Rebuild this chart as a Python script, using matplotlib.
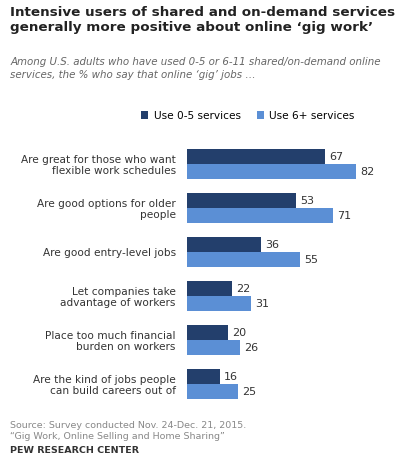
import matplotlib
matplotlib.use("Agg")
import matplotlib.pyplot as plt
import numpy as np

categories = ["Are great for those who want\nflexible work schedules",
              "Are good options for older\npeople",
              "Are good entry-level jobs",
              "Let companies take\nadvantage of workers",
              "Place too much financial\nburden on workers",
              "Are the kind of jobs people\ncan build careers out of"]
use_0_5 = [67, 53, 36, 22, 20, 16]
use_6p = [82, 71, 55, 31, 26, 25]
series_names = ["Use 0-5 services", "Use 6+ services"]
dark, light = "#233f6c", "#5b8fd5"

fig = plt.figure(figsize=(4.2, 4.59), dpi=100)
fig.text(0.024, 0.988, "Intensive users of shared and on-demand services\ngenerally more positive about online \u2018gig work\u2019",
         fontsize=9.7, fontweight="bold", va="top", ha="left", color="#222222", linespacing=1.25)
fig.text(0.024, 0.875, "Among U.S. adults who have used 0-5 or 6-11 shared/on-demand online\nservices, the % who say that online \u2018gig\u2019 jobs \u2026",
         fontsize=7.4, style="italic", va="top", ha="left", color="#666666", linespacing=1.3)

ax = fig.add_axes([0.445, 0.115, 0.49, 0.575])
y = np.arange(len(categories))
h = 0.34
b1 = ax.barh(y - h/2, use_0_5, height=h, color=dark, label=series_names[0])
b2 = ax.barh(y + h/2, use_6p, height=h, color=light, label=series_names[1])
for bars, vals in ((b1, use_0_5), (b2, use_6p)):
    for r, v in zip(bars, vals):
        ax.text(v + 2, r.get_y() + r.get_height()/2, str(v), va="center", ha="left", fontsize=8, color="#333333")
ax.set_xlim(0, 100)
ax.set_ylim(len(categories) - 0.5, -0.5)
ax.set_yticks(y)
ax.set_yticklabels(categories, fontsize=7.6, color="#333333", linespacing=1.15)
ax.tick_params(length=0, pad=8)
ax.set_xticks([])
for s in ax.spines.values():
    s.set_visible(False)
fig.legend(handles=[b1, b2], loc="center", bbox_to_anchor=(0.59, 0.748), ncol=2, frameon=False,
           fontsize=7.6, handlelength=0.7, handleheight=0.7, columnspacing=1.5, handletextpad=0.5)

fig.text(0.024, 0.083, "Source: Survey conducted Nov. 24-Dec. 21, 2015.\n\u201cGig Work, Online Selling and Home Sharing\u201d",
         fontsize=6.8, color="#888888", va="top", ha="left", linespacing=1.3)
fig.text(0.024, 0.008, "PEW RESEARCH CENTER", fontsize=6.8, fontweight="bold", color="#333333", va="bottom", ha="left")
fig.savefig("out.png", dpi=100)
